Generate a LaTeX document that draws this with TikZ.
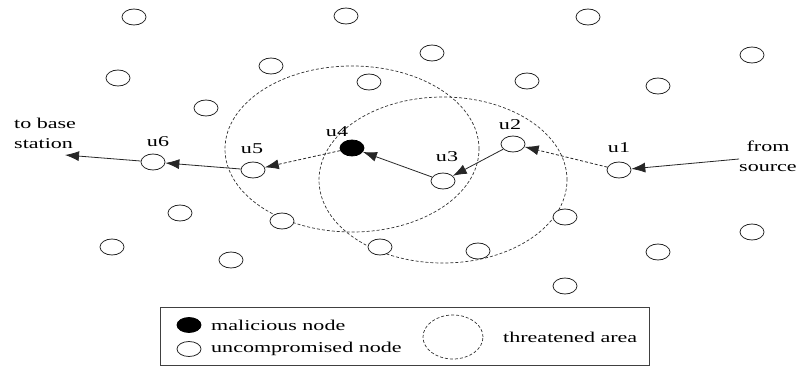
\documentclass[tikz,border=0pt]{standalone}
\usepackage{fontspec}
\setmainfont[FakeStretch=1.47]{Liberation Serif}
\usetikzlibrary{shapes.geometric,arrows.meta}
\begin{document}
\begin{tikzpicture}[x=1pt,y=-1pt,
  every node/.style={font=\fontsize{15}{20}\selectfont},
  sensor/.style={ellipse,draw=black!85,line width=0.8pt,fill=white,
    minimum width=24pt,minimum height=16pt,inner sep=0pt},
  bad/.style={sensor,fill=black,draw=black},
  lbl/.style={inner sep=0pt},
  zone/.style={draw=black!80,dashed,dash pattern=on 3pt off 2pt,line width=0.7pt},
  hop/.style={draw=black!85,line width=0.8pt,-{Latex[length=14pt,width=10pt]}},
  hopd/.style={hop,dash pattern=on 3pt off 2pt}]
\useasboundingbox (0,0) rectangle (803,366);

% threatened areas around u4 and u3
\draw[zone] (352,149) ellipse [x radius=127pt, y radius=83pt];
\draw[zone] (443,180) ellipse [x radius=124pt, y radius=83pt];

% scattered uncompromised sensors
\foreach \i/\p in {a/{(134,17)},b/{(346,16)},c/{(588,17)},d/{(118,78)},
  e/{(271,66)},f/{(432,53)},g/{(369,82)},h/{(527,81)},k/{(658,86)},
  m/{(752,55)},n/{(206,108)},o/{(180,213)},p/{(282,221)},q/{(380,247)},
  r/{(478,251)},s/{(565,217)},t/{(658,252)},v/{(752,232)},w/{(112,247)},
  y/{(231,260)},z/{(565,286)}}
  \node[sensor] (s\i) at \p {};

% route nodes
\node[sensor] (u1) at (619,170) {};
\node[sensor] (u2) at (513,144) {};
\node[sensor] (u3) at (443,181) {};
\node[bad]    (u4) at (352,148) {};
\node[sensor] (u5) at (253,170) {};
\node[sensor] (u6) at (153,162) {};

\node[lbl] (l1) at (619,148) {u1};
\node[lbl] (l2) at (510,125) {u2};
\node[lbl] (l3) at (447,157) {u3};
\node[lbl] (l4) at (337,132) {u4};
\node[lbl] (l5) at (252,149) {u5};
\node[lbl] (l6) at (158,142) {u6};

\node[lbl,align=left,anchor=west] (bs) at (14,133) {to base\\station};
\node[lbl,align=center] (src) at (768,156) {from\\source};
\coordinate (bsend) at (65,155);

% forwarding path
\draw[hop] ([yshift=-3pt]src.west) -- (u1);
\draw[hopd] (u1) -- (u2);
\draw[hop] (u2) -- (u3);
\draw[hop] (u3) -- (u4);
\draw[hopd] (u4) -- (u5);
\draw[hop] (u5) -- (u6);
\draw[hop] (u6) -- (bsend);

% legend
\node[draw=black!75,line width=0.8pt,minimum width=489pt,minimum height=58pt,
  anchor=north west,inner sep=0pt] (key) at (160,307) {};
\node[bad,minimum width=24pt,minimum height=15pt] (kbad) at (189,325) {};
\node[sensor,minimum width=24pt,minimum height=15pt] (kok) at (189,349) {};
\node[lbl,anchor=west] (tbad) at (211,325) {malicious node};
\node[lbl,anchor=west] (tok) at (211,349) {uncompromised node};
\draw[zone] (453,337) ellipse [x radius=30pt, y radius=22pt];
\node[lbl,anchor=west] (tzone) at (503,337) {threatened area};
\end{tikzpicture}
\end{document}
